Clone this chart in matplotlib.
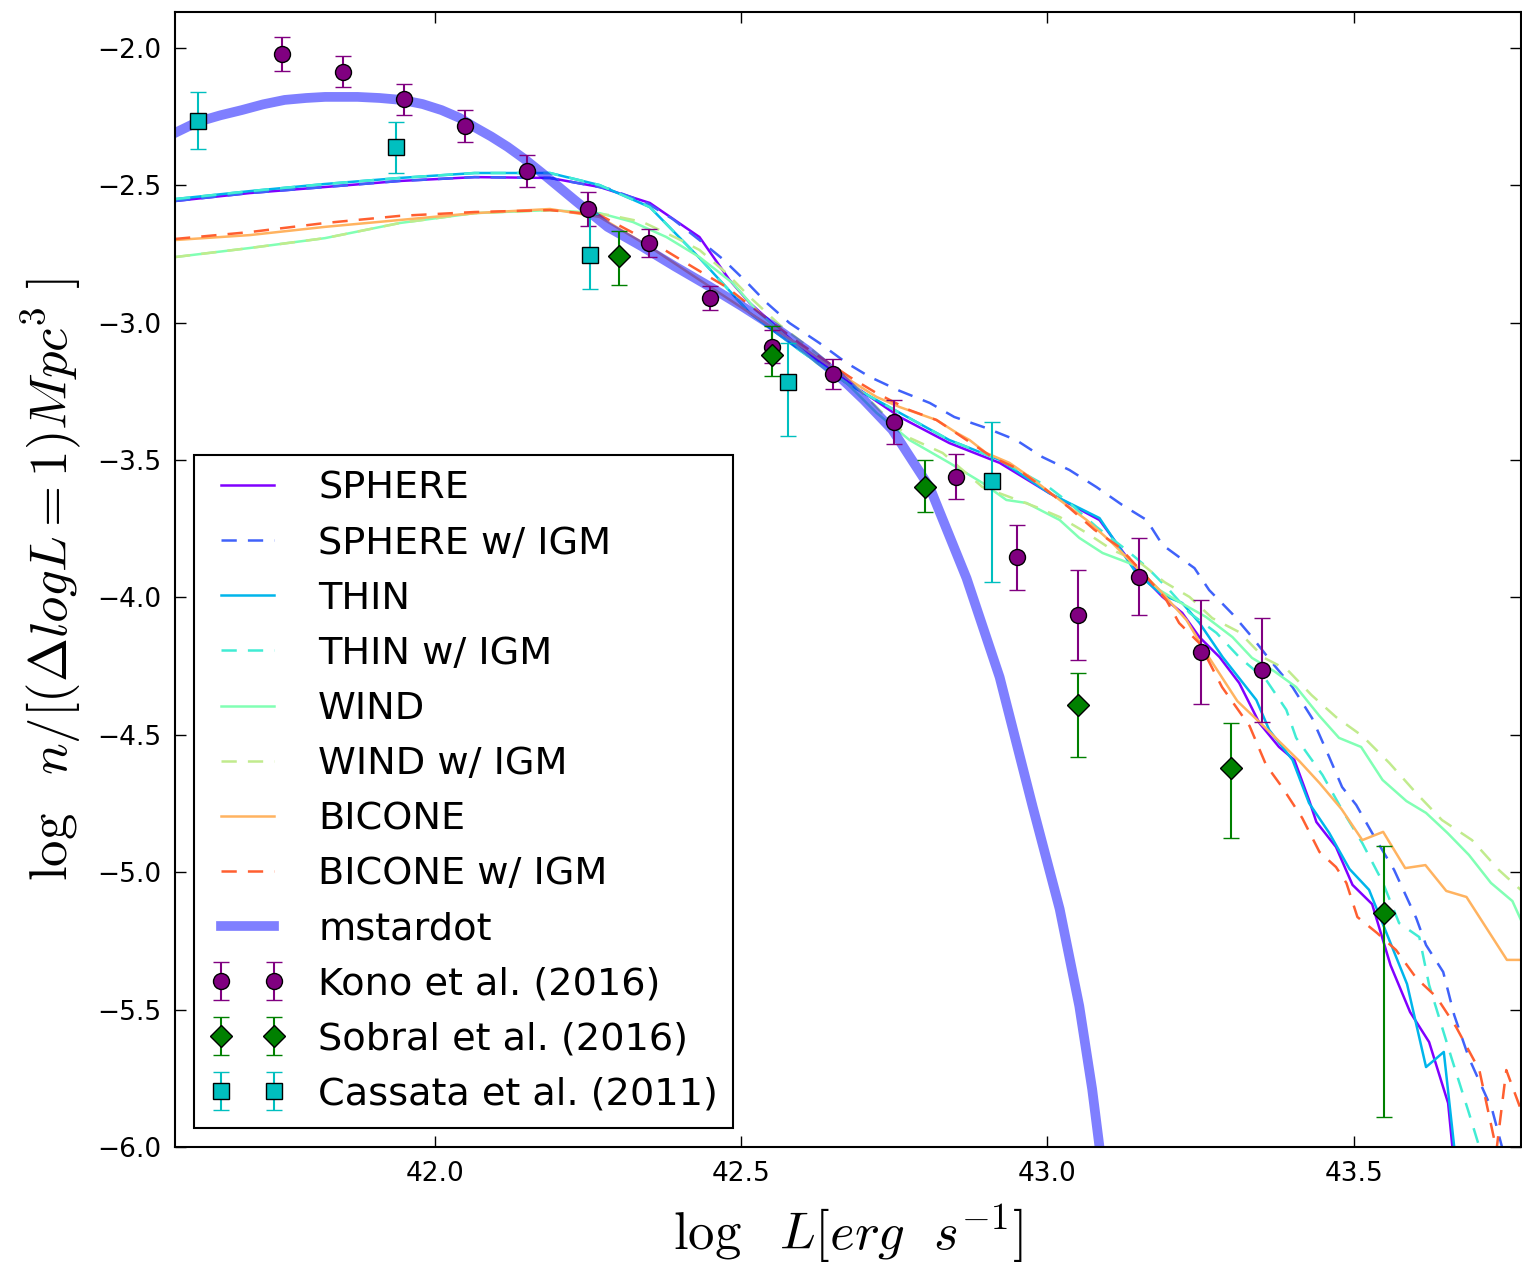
import numpy as np
import matplotlib
matplotlib.use("Agg")
import matplotlib.pyplot as plt

plt.rcParams['mathtext.fontset'] = 'cm'
plt.rcParams['font.family'] = ['DejaVu Sans']
plt.rcParams['lines.scale_dashes'] = False

# ---------------- model curves ----------------
sphere_x = [41.576, 41.698, 41.821, 41.943, 42.065, 42.188, 42.269, 42.351, 42.432, 42.481, 42.514, 42.595,
            42.677, 42.759, 42.840, 42.922, 43.003, 43.085, 43.145, 43.188, 43.220, 43.248, 43.281, 43.313,
            43.346, 43.378, 43.403, 43.427, 43.439, 43.471, 43.498, 43.530, 43.560, 43.592, 43.623, 43.654,
            43.661, 43.666]
sphere_y = [-2.557, -2.528, -2.506, -2.484, -2.470, -2.473, -2.506, -2.564, -2.688, -2.844, -2.928, -3.088,
            -3.219, -3.343, -3.438, -3.510, -3.620, -3.718, -3.900, -3.998, -4.056, -4.144, -4.217, -4.311,
            -4.457, -4.544, -4.591, -4.737, -4.817, -4.908, -5.046, -5.116, -5.338, -5.509, -5.618, -5.840,
            -6.0, -6.12]

sphere_igm_x = [41.576, 41.698, 41.821, 41.943, 42.065, 42.188, 42.285, 42.346, 42.388, 42.432, 42.470,
                42.509, 42.542, 42.579, 42.628, 42.672, 42.710, 42.759, 42.808, 42.848, 42.900, 42.949,
                42.992, 43.036, 43.080, 43.122, 43.162, 43.188, 43.215, 43.240, 43.264, 43.302, 43.334,
                43.367, 43.400, 43.432, 43.460, 43.481, 43.504, 43.530, 43.566, 43.602, 43.618, 43.646,
                43.664, 43.688, 43.726, 43.742, 43.754]
sphere_igm_y = [-2.557, -2.528, -2.506, -2.484, -2.470, -2.473, -2.513, -2.564, -2.622, -2.699, -2.768,
                -2.852, -2.928, -3.001, -3.074, -3.146, -3.197, -3.248, -3.292, -3.343, -3.383, -3.427,
                -3.489, -3.536, -3.598, -3.663, -3.718, -3.809, -3.853, -3.893, -3.973, -4.060, -4.144,
                -4.238, -4.326, -4.439, -4.581, -4.690, -4.755, -4.857, -4.992, -5.167, -5.265, -5.363,
                -5.520, -5.676, -5.865, -6.0, -6.12]

thin_x = [41.576, 41.698, 41.821, 41.943, 42.065, 42.188, 42.269, 42.351, 42.432, 42.514, 42.595, 42.677,
          42.759, 42.840, 42.922, 43.003, 43.085, 43.145, 43.188, 43.220, 43.248, 43.286, 43.341, 43.362,
          43.400, 43.427, 43.460, 43.493, 43.525, 43.587, 43.618, 43.647, 43.664, 43.667]
thin_y = [-2.550, -2.521, -2.495, -2.473, -2.455, -2.455, -2.499, -2.579, -2.764, -2.964, -3.099, -3.227,
          -3.328, -3.427, -3.499, -3.620, -3.711, -3.911, -3.991, -4.020, -4.092, -4.217, -4.373, -4.482,
          -4.591, -4.748, -4.857, -4.988, -5.064, -5.407, -5.709, -5.654, -6.0, -6.1]

thin_igm_x = [41.576, 41.698, 41.821, 41.943, 42.065, 42.188, 42.269, 42.351, 42.432, 42.514, 42.595,
              42.677, 42.759, 42.840, 42.922, 43.003, 43.036, 43.080, 43.129, 43.162, 43.199, 43.232,
              43.276, 43.313, 43.357, 43.390, 43.406, 43.449, 43.481, 43.514, 43.547, 43.574, 43.607,
              43.623, 43.659, 43.688, 43.705, 43.710]
thin_igm_y = [-2.550, -2.521, -2.495, -2.473, -2.455, -2.455, -2.499, -2.579, -2.764, -2.964, -3.099,
              -3.227, -3.328, -3.427, -3.499, -3.600, -3.656, -3.743, -3.827, -3.889, -3.973, -4.056,
              -4.129, -4.217, -4.300, -4.409, -4.511, -4.646, -4.773, -4.894, -5.035, -5.185, -5.236,
              -5.410, -5.672, -5.876, -6.0, -6.1]

wind_x = [41.576, 41.698, 41.821, 41.943, 42.065, 42.188, 42.269, 42.323, 42.378, 42.432, 42.486, 42.525,
          42.574, 42.623, 42.672, 42.721, 42.775, 42.840, 42.894, 42.933, 42.966, 43.020, 43.052, 43.090,
          43.142, 43.183, 43.215, 43.259, 43.302, 43.334, 43.370, 43.406, 43.444, 43.476, 43.512, 43.547,
          43.586, 43.618, 43.653, 43.688, 43.724, 43.759, 43.773]
wind_y = [-2.761, -2.728, -2.692, -2.637, -2.601, -2.590, -2.601, -2.633, -2.688, -2.761, -2.855, -2.954,
          -3.052, -3.146, -3.219, -3.328, -3.427, -3.510, -3.583, -3.645, -3.656, -3.718, -3.783, -3.838,
          -3.882, -3.973, -4.016, -4.071, -4.144, -4.220, -4.268, -4.326, -4.431, -4.511, -4.544, -4.664,
          -4.741, -4.784, -4.857, -4.937, -5.039, -5.105, -5.174]

wind_igm_x = [41.576, 41.698, 41.821, 41.943, 42.065, 42.188, 42.285, 42.339, 42.395, 42.432, 42.476,
              42.514, 42.563, 42.612, 42.677, 42.726, 42.775, 42.829, 42.894, 42.938, 42.982, 43.020,
              43.064, 43.106, 43.150, 43.191, 43.232, 43.269, 43.313, 43.354, 43.392, 43.431, 43.471,
              43.514, 43.558, 43.602, 43.644, 43.693, 43.737, 43.773]
wind_igm_y = [-2.761, -2.728, -2.692, -2.637, -2.601, -2.590, -2.608, -2.633, -2.692, -2.735, -2.819,
              -2.906, -3.008, -3.092, -3.208, -3.318, -3.419, -3.474, -3.598, -3.634, -3.671, -3.707,
              -3.765, -3.827, -3.871, -3.944, -3.998, -4.075, -4.126, -4.220, -4.264, -4.355, -4.435,
              -4.504, -4.602, -4.712, -4.810, -4.883, -4.992, -5.065]

bicone_x = [41.576, 41.698, 41.821, 41.943, 42.065, 42.188, 42.269, 42.351, 42.432, 42.514, 42.595, 42.677,
            42.721, 42.759, 42.819, 42.852, 42.873, 42.900, 42.938, 42.971, 43.020, 43.064, 43.106, 43.145,
            43.183, 43.227, 43.261, 43.310, 43.351, 43.411, 43.444, 43.480, 43.514, 43.548, 43.584, 43.617,
            43.651, 43.684, 43.750, 43.773]
bicone_y = [-2.699, -2.681, -2.651, -2.626, -2.601, -2.586, -2.615, -2.724, -2.844, -2.964, -3.081, -3.208,
            -3.270, -3.307, -3.354, -3.401, -3.427, -3.474, -3.510, -3.561, -3.645, -3.718, -3.802, -3.889,
            -3.973, -4.082, -4.209, -4.377, -4.464, -4.595, -4.675, -4.770, -4.883, -4.853, -4.985, -4.974,
            -5.068, -5.090, -5.319, -5.319]

bicone_igm_x = [41.576, 41.698, 41.821, 41.943, 42.065, 42.188, 42.269, 42.367, 42.421, 42.476, 42.530,
                42.595, 42.677, 42.721, 42.775, 42.819, 42.856, 42.910, 42.949, 42.992, 43.036, 43.077,
                43.117, 43.162, 43.194, 43.215, 43.248, 43.285, 43.330, 43.357, 43.383, 43.416, 43.444,
                43.471, 43.488, 43.506, 43.538, 43.569, 43.602, 43.635, 43.667, 43.705, 43.733, 43.749,
                43.773]
bicone_igm_y = [-2.695, -2.670, -2.637, -2.611, -2.597, -2.590, -2.608, -2.724, -2.797, -2.870, -2.964,
                -3.074, -3.197, -3.256, -3.318, -3.354, -3.409, -3.489, -3.529, -3.598, -3.674, -3.754,
                -3.816, -3.925, -4.009, -4.093, -4.166, -4.326, -4.468, -4.610, -4.690, -4.803, -4.926,
                -4.981, -5.039, -5.163, -5.221, -5.283, -5.385, -5.454, -5.563, -5.720, -6.011, -5.720,
                -5.865]

mstardot_x = [41.576, 41.613, 41.650, 41.685, 41.720, 41.755, 41.790, 41.821, 41.874, 41.910, 41.946,
              41.980, 42.011, 42.040, 42.065, 42.092, 42.119, 42.147, 42.175, 42.228, 42.282, 42.338,
              42.392, 42.446, 42.500, 42.554, 42.608, 42.660, 42.700, 42.747, 42.808, 42.868, 42.922,
              42.976, 43.020, 43.052, 43.073, 43.085, 43.093]
mstardot_y = [-2.309, -2.269, -2.245, -2.226, -2.205, -2.189, -2.182, -2.178, -2.178, -2.182, -2.189,
              -2.204, -2.226, -2.254, -2.288, -2.322, -2.360, -2.405, -2.455, -2.553, -2.651, -2.722,
              -2.795, -2.865, -2.938, -3.015, -3.100, -3.195, -3.280, -3.390, -3.600, -3.930, -4.290,
              -4.762, -5.134, -5.487, -5.789, -6.0, -6.19]

# ---------------- observations ----------------
kono_x = [41.75, 41.85, 41.95, 42.05, 42.15, 42.25, 42.35, 42.45, 42.55, 42.65, 42.75, 42.85, 42.95,
          43.05, 43.15, 43.25, 43.35]
kono_y = [-2.023, -2.086, -2.187, -2.284, -2.448, -2.586, -2.710, -2.910, -3.088, -3.187, -3.361, -3.561,
          -3.853, -4.064, -3.925, -4.198, -4.264]
kono_err = [0.062, 0.057, 0.057, 0.057, 0.057, 0.062, 0.050, 0.042, 0.060, 0.055, 0.080, 0.082, 0.118,
            0.164, 0.140, 0.190, 0.190]

sobral_x = [42.30, 42.55, 42.80, 43.05, 43.30, 43.55]
sobral_y = [-2.757, -3.117, -3.598, -4.391, -4.621, -5.148]
sobral_err_lo = [0.106, 0.076, 0.091, 0.189, 0.255, 0.742]
sobral_err_hi = [0.091, 0.106, 0.098, 0.116, 0.164, 0.244]

cassata_x = [41.613, 41.936, 42.253, 42.577, 42.910]
cassata_y = [-2.266, -2.360, -2.753, -3.216, -3.576]
cassata_err_lo = [0.102, 0.094, 0.125, 0.197, 0.368]
cassata_err_hi = [0.106, 0.091, 0.150, 0.142, 0.215]

labels = ['SPHERE', 'SPHERE w/ IGM', 'THIN', 'THIN w/ IGM', 'WIND', 'WIND w/ IGM', 'BICONE', 'BICONE w/ IGM']

colors = plt.cm.rainbow(np.linspace(0, 1, 9))

fig = plt.figure(figsize=(15.22, 12.64), dpi=100)
ax = fig.add_axes([175/1522, 1 - 1147/1264, (1521 - 175)/1522, (1147 - 12)/1264])

models = [(sphere_x, sphere_y), (sphere_igm_x, sphere_igm_y), (thin_x, thin_y), (thin_igm_x, thin_igm_y),
          (wind_x, wind_y), (wind_igm_x, wind_igm_y), (bicone_x, bicone_y), (bicone_igm_x, bicone_igm_y)]
for i, ((mx, my), lab) in enumerate(zip(models, labels)):
    if i % 2 == 0:
        ax.plot(mx, my, '-', color=colors[i], lw=1.8, label=lab)
    else:
        ax.plot(mx, my, '--', color=colors[i], lw=1.8, dashes=(11, 8), label=lab)

ax.plot(mstardot_x, mstardot_y, '-', color='b', alpha=0.5, lw=7, label='mstardot')

ekw = dict(markersize=11.5, markeredgecolor='k', markeredgewidth=1.0, elinewidth=1.5, capsize=6, capthick=1.5, ls='none')
ax.errorbar(kono_x, kono_y, yerr=kono_err, fmt='o', color='purple', label='Kono et al. (2016)', **ekw)
ax.errorbar(sobral_x, sobral_y, yerr=[sobral_err_lo, sobral_err_hi], fmt='D', color='green',
            label='Sobral et al. (2016)', **ekw)
ax.errorbar(cassata_x, cassata_y, yerr=[cassata_err_lo, cassata_err_hi], fmt='s', color='c',
            label='Cassata et al. (2011)', **ekw)

ax.set_xlim(41.576, 43.773)
ax.set_ylim(-6.0, -1.869)
ax.set_xticks([42.0, 42.5, 43.0, 43.5])
ax.set_yticks([-2.0, -2.5, -3.0, -3.5, -4.0, -4.5, -5.0, -5.5, -6.0])
fmt = matplotlib.ticker.FuncFormatter(lambda v, p: ('%.1f' % v).replace('-', '\u2212'))
ax.xaxis.set_major_formatter(fmt)
ax.yaxis.set_major_formatter(fmt)
ax.tick_params(direction='in', length=8, width=1, labelsize=19, top=True, right=True, pad=10)
for s in ax.spines.values():
    s.set_linewidth(1.5)

ax.set_xlabel(r'$\log\ \ L[erg\ \ s^{-1}]$', fontsize=38, labelpad=11)
ax.set_ylabel(r'$\log\ \ n/[(\Delta logL=1)Mpc^3\ ]$', fontsize=38, labelpad=10)

leg = ax.legend(loc='lower left', numpoints=2, fontsize=27.5, handlelength=2.0, handletextpad=0.85,
                labelspacing=0.5, borderpad=0.4, borderaxespad=0.5, fancybox=False, framealpha=1)
leg.get_frame().set_edgecolor('k')
leg.get_frame().set_linewidth(1.5)

fig.savefig('out.png', dpi=100)
